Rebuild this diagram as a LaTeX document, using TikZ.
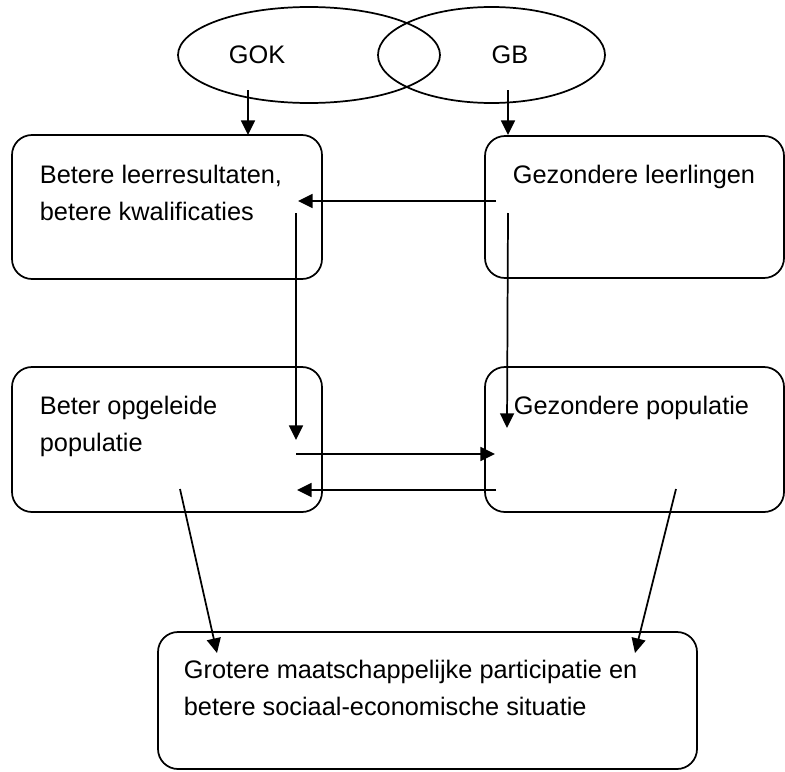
\documentclass[tikz,border=0pt]{standalone}
\usepackage{fontspec}
\setmainfont{Liberation Sans}
\usetikzlibrary{shapes.geometric,arrows.meta}
\begin{document}
\begin{tikzpicture}[x=0.75pt,y=-0.75pt,
  line width=1.3pt,
  arr/.style={-{Triangle[length=11pt,width=10.5pt]}},
  oval/.style={draw,ellipse,inner sep=0pt},
  rbox/.style={draw,rectangle,rounded corners=15pt,inner sep=0pt},
  txt/.style={anchor=base west,inner sep=0pt,font=\fontsize{19}{27.5}\selectfont,align=left},
  lbl/.style={inner sep=0pt,font=\fontsize{19}{23}\selectfont}]
\useasboundingbox (0,0) rectangle (785,771);
% ellipses
\node[oval,minimum width=196.5pt,minimum height=72pt] (gok) at (309,55) {};
\node[oval,minimum width=170.25pt,minimum height=72pt] (gb) at (491.5,55) {};
\node[lbl] (gokt) at (257,55) {GOK};
\node[lbl] (gbt) at (510,55) {GB};
% boxes
\node[rbox,minimum width=232.5pt,minimum height=108pt] (b1) at (167,207) {};
\node[rbox,minimum width=224.25pt,minimum height=106.5pt] (b2) at (634.5,207) {};
\node[rbox,minimum width=232.5pt,minimum height=108.75pt] (b3) at (167,439.5) {};
\node[rbox,minimum width=224.25pt,minimum height=108.75pt] (b4) at (634.5,439.5) {};
\node[rbox,minimum width=404.25pt,minimum height=102.75pt] (b5) at (427.5,700.5) {};
% texts (multi-line nodes: base = last line's baseline)
\node[txt] (t1) at (39,220) {Betere leerresultaten,\\betere kwalificaties};
\node[txt] (t2) at (512,183) {Gezondere leerlingen};
\node[txt] (t3) at (39,451) {Beter opgeleide\\populatie};
\node[txt] (t4) at (513,414) {Gezondere populatie};
\node[txt] (t5) at (183,715) {Grotere maatschappelijke participatie en\\betere sociaal-economische situatie};
% connector end points
\coordinate (gokS) at (248,90);
\coordinate (gokE) at (248,135);
\coordinate (gbS) at (508,90);
\coordinate (gbE) at (508,135);
\coordinate (h1S) at (496,201);
\coordinate (h1E) at (298,201);
\coordinate (v1S) at (296,213);
\coordinate (v1E) at (296,440);
\coordinate (v2S) at (508,213);
\coordinate (v2E) at (507,428);
\coordinate (h2S) at (296,454);
\coordinate (h2E) at (495,454);
\coordinate (h3S) at (496,490);
\coordinate (h3E) at (297,490);
\coordinate (d1S) at (180,489);
\coordinate (d1E) at (217,653);
\coordinate (d2S) at (676,489);
\coordinate (d2E) at (635,653);
% connectors
\draw[arr] (gokS) -- (gokE);
\draw[arr] (gbS) -- (gbE);
\draw[arr] (h1S) -- (h1E);
\draw[arr] (v1S) -- (v1E);
\draw[arr] (v2S) -- (v2E);
\draw[arr] (h2S) -- (h2E);
\draw[arr] (h3S) -- (h3E);
\draw[arr] (d1S) -- (d1E);
\draw[arr] (d2S) -- (d2E);
\end{tikzpicture}
\end{document}
